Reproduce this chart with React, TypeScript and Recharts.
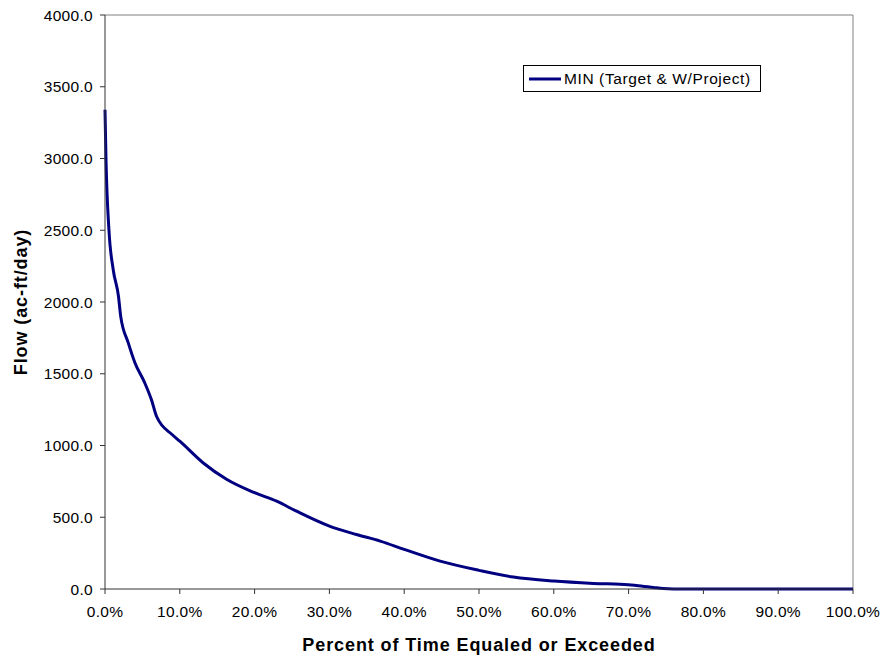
import React from 'react';
import { LineChart, Line, XAxis, YAxis, ReferenceLine, Legend } from 'recharts';

const percentTime = [0, 0.13, 0.53, 1.1, 1.8, 2.1, 3.1, 4.0, 5.3, 6.2, 6.9, 9.0, 10.0, 13.1, 16.3, 20.0, 22.95, 25.6, 30.0, 33.6, 36.8, 40.0, 44.8, 50.0, 54.6, 60.0, 65.3, 70.0, 71.0, 73.3, 74.6, 76.0, 100.0];
const minFlow = [3340, 3000, 2500, 2225, 2040, 1900, 1717, 1577, 1438, 1320, 1202, 1075, 1030, 880, 763, 671, 612, 542, 438, 380, 334, 276, 194, 130, 83, 55, 39, 30, 25, 11, 3, 0, 0];
const xTicks = [0, 10, 20, 30, 40, 50, 60, 70, 80, 90, 100];
const yTicks = [0, 500, 1000, 1500, 2000, 2500, 3000, 3500, 4000];
const seriesName = 'MIN (Target & W/Project)';

const data = percentTime.map((x, i) => ({ x, y: minFlow[i] }));

const FONT = '"Liberation Sans", Arial, sans-serif';

const LegendBox = () => (
  <div
    style={{
      width: 236,
      height: 25,
      border: '1px solid #000',
      background: '#fff',
      display: 'flex',
      alignItems: 'center',
      fontFamily: FONT,
      fontSize: 15.5,
      letterSpacing: 0.6,
      color: '#000',
      boxSizing: 'content-box',
    }}
  >
    <svg width={40} height={25} style={{ display: 'block', flex: 'none' }}>
      <line x1={5} y1={13} x2={37} y2={13} stroke="#000080" strokeWidth={3} />
    </svg>
    <span style={{ whiteSpace: 'nowrap' }}>{seriesName}</span>
  </div>
);

export default function App() {
  return (
    <div style={{ position: 'absolute', left: 0, top: 0, width: 886, height: 658, background: '#fff' }}>
      <LineChart width={886} height={658} data={data} margin={{ top: 15, right: 33, left: 0, bottom: 0 }}>
        <XAxis
          type="number"
          dataKey="x"
          domain={[0, 100]}
          ticks={xTicks}
          interval={0}
          tickFormatter={(v: number) => v.toFixed(1) + '%'}
          height={69}
          stroke="#333"
          tickSize={5}
          tickMargin={12}
          tick={{ fill: '#000', fontSize: 15.5, fontFamily: FONT, letterSpacing: 0.3 }}
          label={{
            value: 'Percent of Time Equaled or Exceeded',
            position: 'insideBottom',
            offset: 7,
            style: { fontFamily: FONT, fontSize: 18, fontWeight: 'bold', letterSpacing: 0.9, fill: '#000' },
          }}
        />
        <YAxis
          type="number"
          domain={[0, 4000]}
          ticks={yTicks}
          interval={0}
          tickFormatter={(v: number) => v.toFixed(1)}
          width={105}
          stroke="#333"
          tickSize={5}
          tickMargin={7}
          tick={{ fill: '#000', fontSize: 15.5, fontFamily: FONT, letterSpacing: 0.3 }}
          label={{
            value: 'Flow (ac-ft/day)',
            angle: -90,
            position: 'insideLeft',
            offset: 21,
            style: { textAnchor: 'middle', fontFamily: FONT, fontSize: 18, fontWeight: 'bold', letterSpacing: 0.9, fill: '#000' },
          }}
        />
        <ReferenceLine y={4000} stroke="#808080" strokeWidth={1} />
        <ReferenceLine x={100} stroke="#808080" strokeWidth={1} />
        <Legend
          layout="vertical"
          align="center"
          verticalAlign="middle"
          content={() => <LegendBox />}
          wrapperStyle={{ position: 'absolute', left: 523, top: 65, width: 'auto', height: 'auto' }}
        />
        <Line
          type="monotone"
          dataKey="y"
          name={seriesName}
          stroke="#000080"
          strokeWidth={3}
          dot={false}
          activeDot={false}
          isAnimationActive={false}
        />
      </LineChart>
    </div>
  );
}
